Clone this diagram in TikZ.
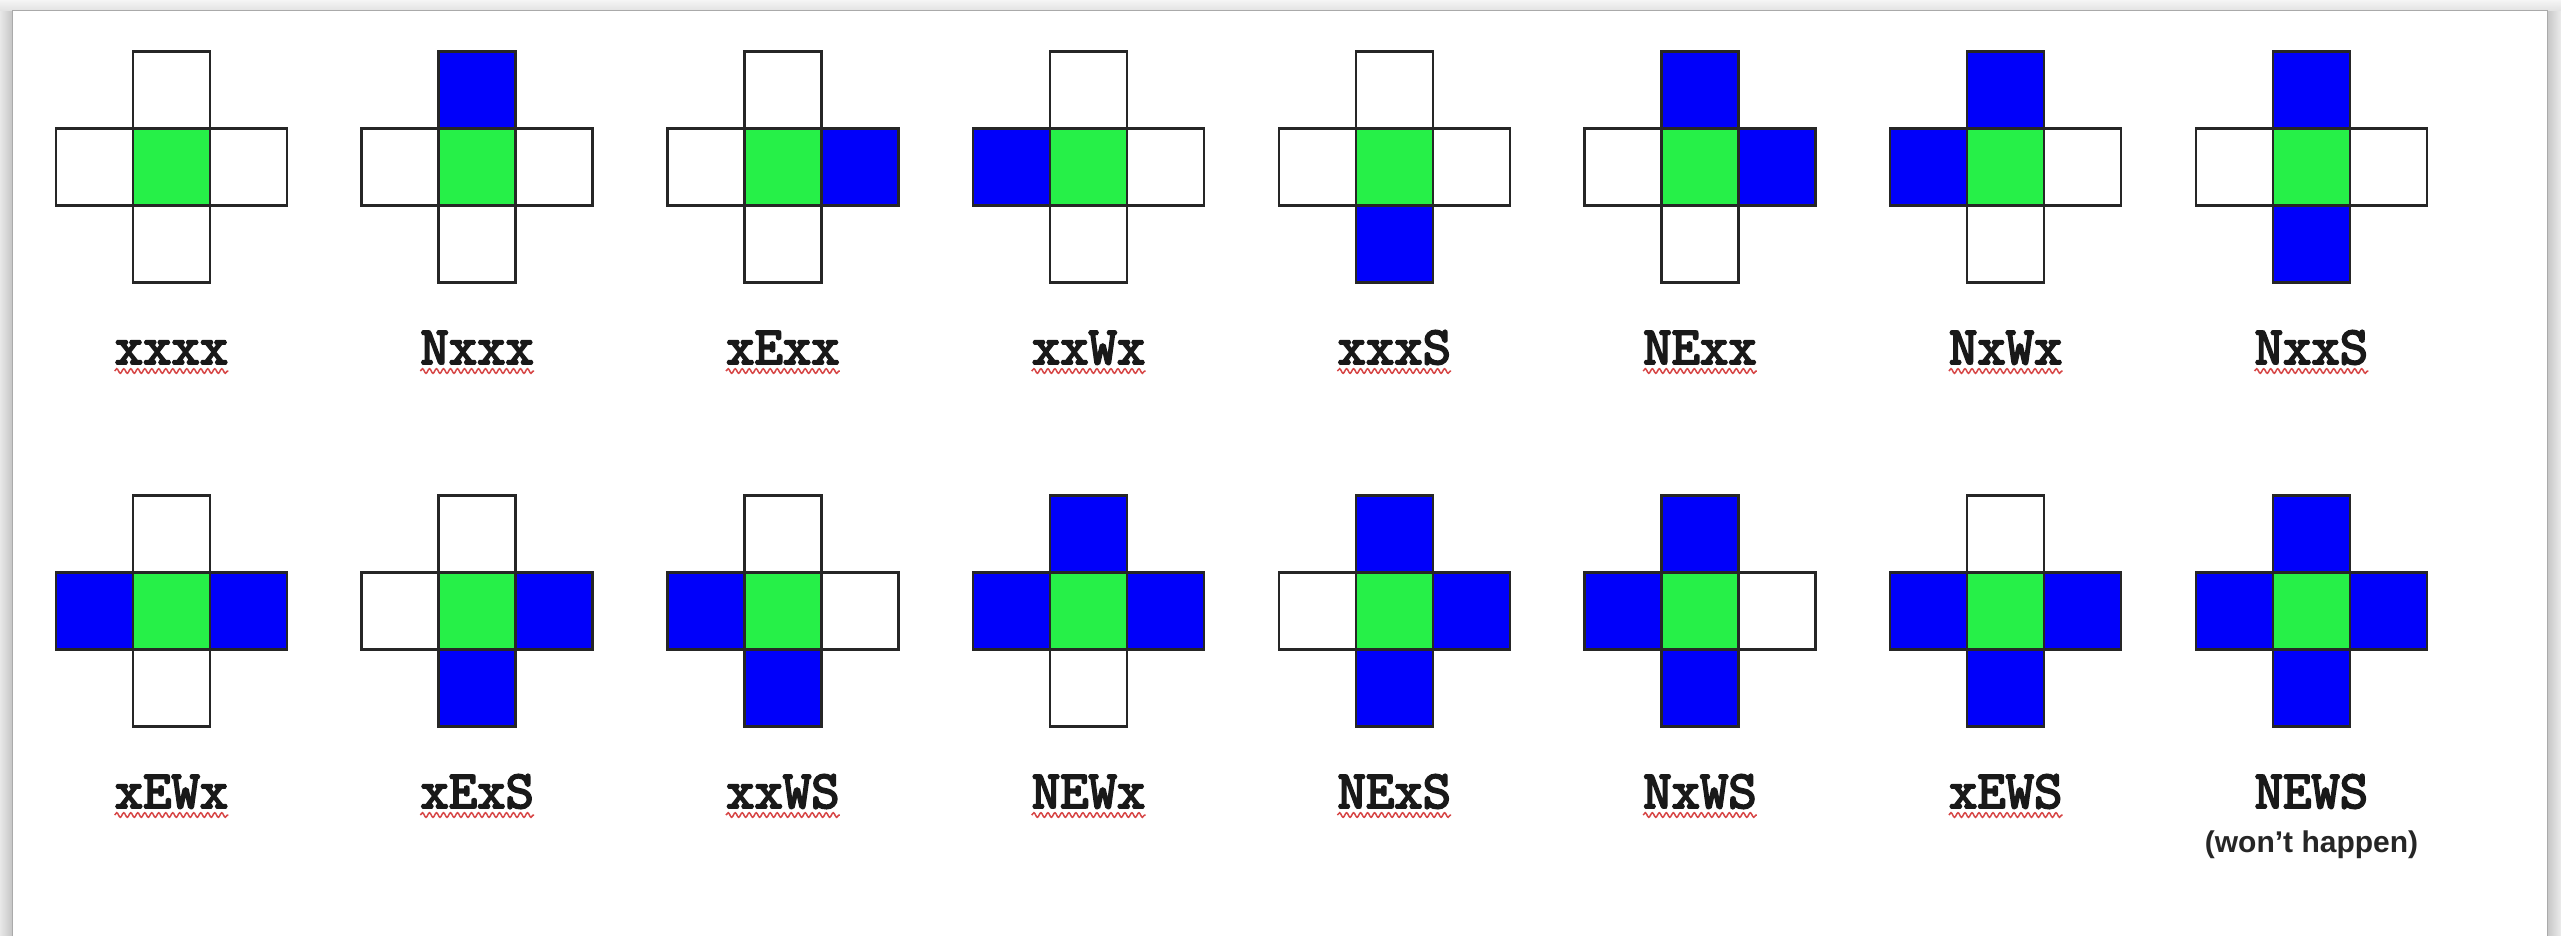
\documentclass[tikz,border=0pt]{standalone}
\usepackage{fontspec}
\newfontfamily\notefont{Liberation Sans}
\newfontfamily\labfont{lmmono10-regular.otf}[FakeBold=3.5]
\usetikzlibrary{decorations.pathmorphing}
\definecolor{cellblue}{RGB}{0,0,250}
\definecolor{cellgreen}{RGB}{38,240,72}
\definecolor{squigred}{RGB}{215,70,70}
\definecolor{pageedge}{RGB}{170,170,170}
\tikzset{
  cell/.style={draw=black!85, line width=2.5pt, minimum size=77pt, inner sep=0pt, outer sep=0pt, shape=rectangle},
  lab/.style={font=\labfont\fontsize{54}{54}\selectfont, inner sep=0pt, anchor=base, text=black!90},
  note/.style={font=\notefont\bfseries\fontsize{30}{30}\selectfont, inner sep=0pt, anchor=base, text=black!85},
  squig/.style={draw=squigred, line width=1.5pt, decorate, decoration={snake, amplitude=2.3pt, segment length=7pt}}
}
\begin{document}
\begin{tikzpicture}[x=1pt,y=-1pt]
\useasboundingbox (0,0) rectangle (2561,935);
% surrounding window background and shadows
\fill[gray!12] (0,0) rectangle (2561,935);
\shade[left color=gray!18, right color=gray!45] (0,8) rectangle (12,935);
\shade[left color=gray!45, right color=gray!15] (2547,8) rectangle (2561,935);
\shade[top color=gray!8, bottom color=gray!22] (0,0) rectangle (2561,10);
% page
\draw[fill=white, draw=pageedge, line width=1pt] (12,10) rectangle (2547,945);
% crosses
\foreach \lab/\n/\e/\w/\s [count=\k from 0] in {
  xxxx/0/0/0/0, Nxxx/1/0/0/0, xExx/0/1/0/0, xxWx/0/0/1/0,
  xxxS/0/0/0/1, NExx/1/1/0/0, NxWx/1/0/1/0, NxxS/1/0/0/1,
  xEWx/0/1/1/0, xExS/0/1/0/1, xxWS/0/0/1/1, NEWx/1/1/1/0,
  NExS/1/1/0/1, NxWS/1/0/1/1, xEWS/0/1/1/1, NEWS/1/1/1/1} {
  \pgfmathsetmacro\cx{171.5+305.7*mod(\k,8)}
  \pgfmathsetmacro\cy{167+444*int(\k/8)}
  \pgfmathsetmacro\by{364+444*int(\k/8)}
  \ifnum\n=1 \def\fN{cellblue}\else\def\fN{white}\fi
  \ifnum\e=1 \def\fE{cellblue}\else\def\fE{white}\fi
  \ifnum\w=1 \def\fW{cellblue}\else\def\fW{white}\fi
  \ifnum\s=1 \def\fS{cellblue}\else\def\fS{white}\fi
  \node[cell, fill=\fN] (cell-\k-n) at (\cx,\cy-77) {};
  \node[cell, fill=\fS] (cell-\k-s) at (\cx,\cy+77) {};
  \node[cell, fill=\fW] (cell-\k-w) at (\cx-77,\cy) {};
  \node[cell, fill=\fE] (cell-\k-e) at (\cx+77,\cy) {};
  \node[cell, fill=cellgreen] (cell-\k-c) at (\cx,\cy) {};
  \node[lab] (lab-\k) at (\cx,\by) {\lab};
  \ifnum\k<15
    \draw[squig] ([yshift=-7pt]lab-\k.base west) -- ([yshift=-7pt]lab-\k.base east);
  \fi
}
\node[note] (note) at (2311.5,852) {(won’t happen)};
\end{tikzpicture}
\end{document}
